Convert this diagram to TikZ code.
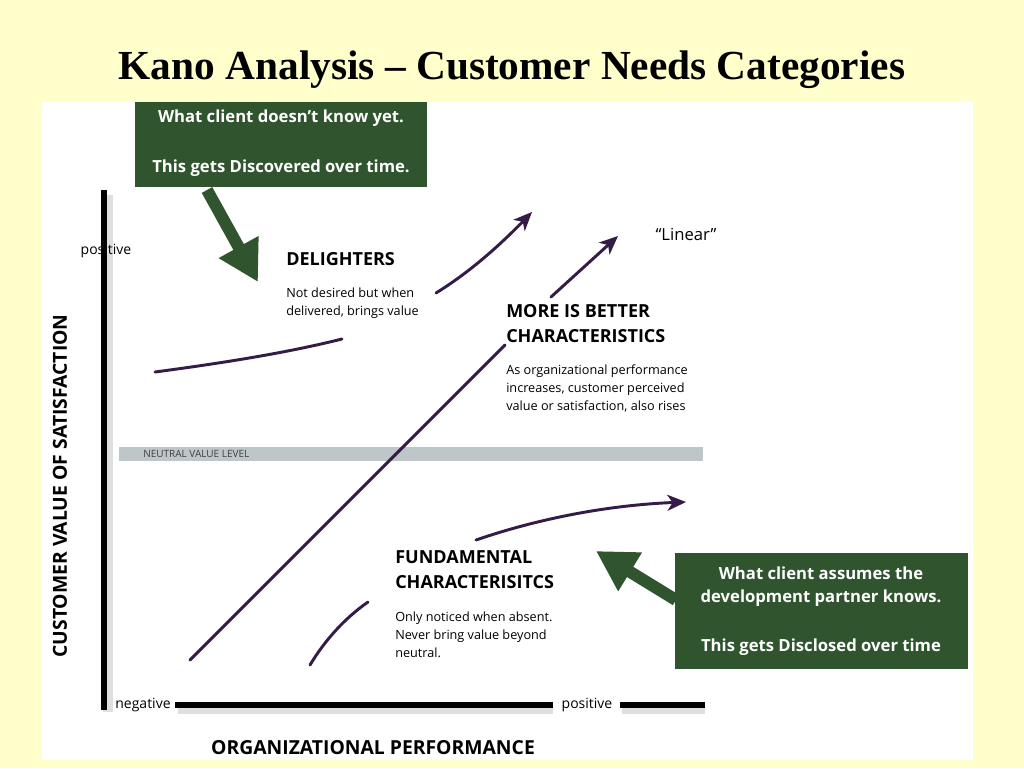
\documentclass[tikz,border=0pt]{standalone}
\usepackage{fontspec}
\setmainfont{Liberation Serif}
\newfontfamily\osans{Open Sans}
\usetikzlibrary{arrows.meta}
\definecolor{bgy}{RGB}{255,255,204}
\definecolor{kgreen}{RGB}{47,84,46}
\definecolor{kpurp}{RGB}{52,28,70}
\definecolor{kgrey}{RGB}{190,198,202}
\begin{document}
\begin{tikzpicture}[x=0.75pt,y=-0.75pt,
  head/.style={font=\osans\bfseries\fontsize{13.5}{18}\selectfont,anchor=west,inner sep=0},
  body/.style={font=\osans\fontsize{9.5}{13.2}\selectfont,anchor=north west,align=left,inner sep=0},
  gtxt/.style={font=\osans\bfseries\fontsize{12.5}{16}\selectfont,text=white,inner sep=0},
  purp/.style={draw=kpurp,line width=2.2pt,line cap=round},
  parr/.style={purp,-{Stealth[length=14pt,width=12pt,inset=4pt]}},
  garr/.style={draw=kgreen,line width=9pt,-{Triangle[length=30pt,width=32pt]}},
  axis/.style={line width=4pt,black}]
\useasboundingbox (0,0) rectangle (1024,768);
\fill[bgy] (0,0) rectangle (1024,768);
\node[font=\bfseries\fontsize{31}{36}\selectfont] (title) at (512,70) {Kano Analysis -- Customer Needs Categories};
\fill[white] (42,102) rectangle (973,760);
% axes
\draw[line width=7pt,gray!25] (108,195) -- (108,712);
\draw[axis] (104,190) -- (104,710);
\draw[line width=7pt,gray!25] (178,709) -- (553,709) (622,709) -- (705,709);
\draw[axis] (175,705) -- (553,705) (620,705) -- (705,705);
\node[font=\osans\fontsize{10.5}{13}\selectfont] (pos1) at (106,251) {positive};
\node[font=\osans\fontsize{10.5}{13}\selectfont] (neg) at (143,705) {negative};
\node[font=\osans\fontsize{10.5}{13}\selectfont] (pos2) at (587,705) {positive};
\node[font=\osans\bfseries\fontsize{14.5}{18}\selectfont] (xl) at (373,748) {ORGANIZATIONAL PERFORMANCE};
\node[font=\osans\bfseries\fontsize{14.5}{18}\selectfont,rotate=90] (yl) at (60,486) {CUSTOMER VALUE OF SATISFACTION};
% neutral band
\fill[kgrey] (119,447) rectangle (703,461);
\node[font=\osans\fontsize{7.5}{9}\selectfont,anchor=west,inner sep=0,text=black!75] (nv) at (143,454) {NEUTRAL VALUE LEVEL};
% green boxes
\node[fill=kgreen,minimum width=292*0.75pt,minimum height=85*0.75pt,anchor=north west,inner sep=0] (gb1) at (135,102) {};
\node[gtxt] (g1a) at (281,118) {What client doesn’t know yet.};
\node[gtxt] (g1b) at (281,168) {This gets Discovered over time.};
\node[fill=kgreen,minimum width=293*0.75pt,minimum height=116*0.75pt,anchor=north west,inner sep=0] (gb2) at (675,553) {};
\node[gtxt] (g2a) at (821,573) {What client assumes the};
\node[gtxt] (g2b) at (821,598) {development partner knows.};
\node[gtxt] (g2c) at (821,647) {This gets Disclosed over time};
\coordinate (ga1) at (207,190); \coordinate (gt1) at (258,282);
\draw[garr] (ga1) -- (gt1);
\coordinate (ga2) at (676,600); \coordinate (gt2) at (596,551);
\draw[garr] (ga2) -- (gt2);
% texts
\node[head] (dl) at (286,259) {DELIGHTERS};
\node[body] (dlt) at (286,288) {Not desired but when\\delivered, brings value};
\node[head] (mb1) at (506,311) {MORE IS BETTER};
\node[head] (mb2) at (506,336) {CHARACTERISTICS};
\node[body] (mbt) at (506,365) {As organizational performance\\increases, customer perceived\\value or satisfaction, also rises};
\node[head] (fu1) at (395,557) {FUNDAMENTAL};
\node[head] (fu2) at (395,582) {CHARACTERISITCS};
\node[body] (fut) at (395,612) {Only noticed when absent.\\Never bring value beyond\\neutral.};
\node[font=\osans\fontsize{12.5}{15}\selectfont] (lin) at (686,234) {“Linear”};
% purple curves
\coordinate (d1) at (155,372); \coordinate (d2) at (342,339);
\draw[purp] (d1) .. controls (230,362) and (290,352) .. (d2);
\coordinate (d3) at (436,293); \coordinate (d4) at (532,212);
\draw[parr] (d3) .. controls (470,272) and (500,245) .. (d4);
\coordinate (l1) at (190,660); \coordinate (l2) at (505,345);
\draw[purp] (l1) -- (l2);
\coordinate (l3) at (551,297); \coordinate (l4) at (618,236);
\draw[parr] (l3) -- (l4);
\coordinate (f1) at (310,665); \coordinate (f2) at (368,602);
\draw[purp] (f1) .. controls (325,640) and (345,618) .. (f2);
\coordinate (f3) at (476,540); \coordinate (f4) at (686,502);
\draw[parr] (f3) .. controls (540,518) and (610,505) .. (f4);
\end{tikzpicture}
\end{document}
